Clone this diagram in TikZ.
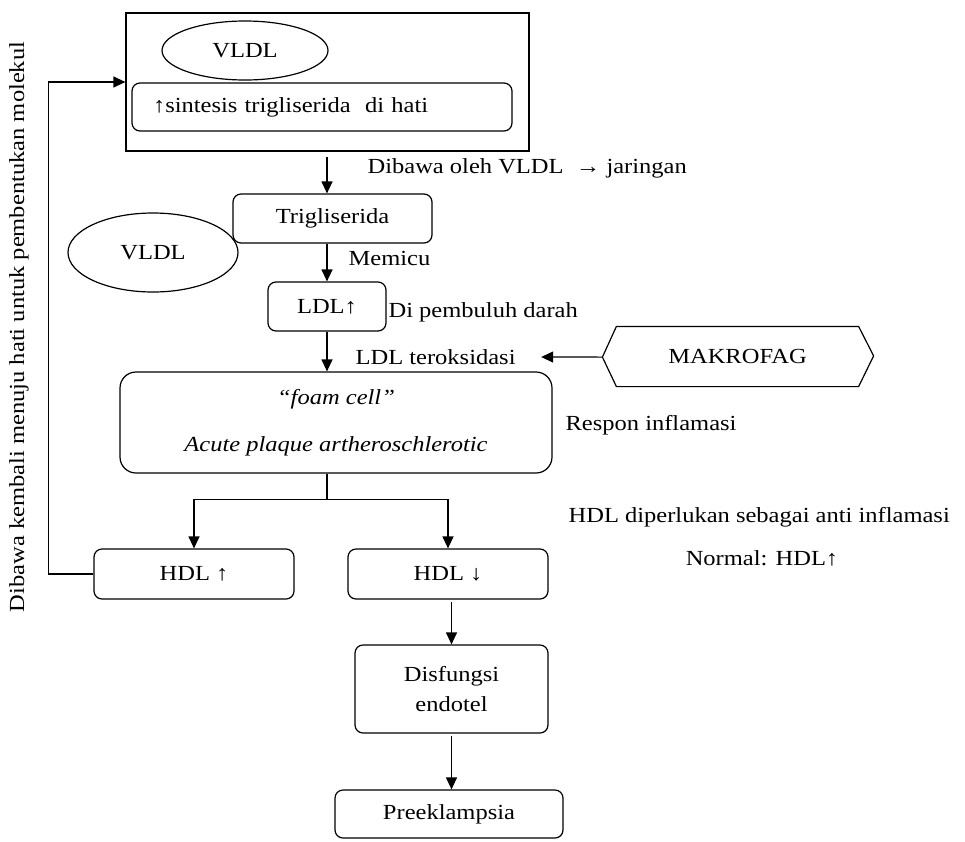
\documentclass[tikz,border=0pt]{standalone}
\usepackage{fontspec}
\setmainfont{Liberation Serif}[FakeStretch=1.14]
\usetikzlibrary{shapes.geometric,arrows.meta}

\newcommand{\sz}{\fontsize{21.5}{25.8}\selectfont}

\begin{document}
\begin{tikzpicture}[
        x = 1pt, y = -1pt,
        > = {Triangle[length=12pt,width=11pt]},
        line width = 1.2pt,
        font = \sz,
        every node/.style = {inner sep=0pt},
        box/.style = {draw, rounded corners=8pt, align=center},
        oval/.style = {draw, ellipse},
        note/.style = {anchor=west}
    ]
    \useasboundingbox (0,0) rectangle (965,841);

    % hati
    \node[draw, minimum width=403pt, minimum height=138pt] (liver) at (327.5,82) {};
    \node[oval, minimum width=166pt, minimum height=59pt] (vldlTop) at (245,50.5) {VLDL};
    \node[box, minimum width=380pt, minimum height=48pt, text width=338pt, align=left] (sintesis) at (322,107) {↑sintesis trigliserida\ \ di hati};

    % jalur utama
    \node[box, minimum width=199pt, minimum height=49pt] (trig) at (332.5,218.5) {Trigliserida};
    \node[oval, minimum width=170pt, minimum height=79pt] (vldlMid) at (153,252.5) {VLDL};
    \node[box, minimum width=118pt, minimum height=49pt] (ldl) at (327,306.5) {LDL↑};
    \node[box, rounded corners=16pt, minimum width=432pt, minimum height=101pt, font=\sz\itshape] (foam) at (336,422.5) {“foam cell”\\[21pt]Acute plaque artheroschlerotic};
    \node[box, minimum width=200pt, minimum height=50pt] (hdlUp) at (194,574) {HDL ↑};
    \node[box, minimum width=200pt, minimum height=50pt] (hdlDown) at (448,574) {HDL ↓};
    \node[box, minimum width=193pt, minimum height=88pt] (disfungsi) at (451.5,689) {Disfungsi\\[4pt]endotel};
    \node[box, minimum width=228pt, minimum height=48pt] (preek) at (449,814) {Preeklampsia};

    % makrofag
    \node[minimum width=241pt, minimum height=59pt] (makrofag) at (737.5,356.5) {MAKROFAG};
    \draw (makrofag.north west) -- (makrofag.north east) -- ++(15,29.5) -- (makrofag.south east)
        -- (makrofag.south west) -- ++(-14,-29.5) coordinate (mtip) -- cycle;

    % keterangan
    \node[note] (dibawa) at (367,168) {Dibawa oleh VLDL\ \ → jaringan};
    \node[note] (memicu) at (348,258) {Memicu};
    \node[note] (darah) at (388,312) {Di pembuluh darah};
    \node[note] (teroks) at (355,357) {LDL teroksidasi};
    \node[note] (respon) at (565,425) {Respon inflamasi};
    \node[note] (antiinf) at (568,517) {HDL diperlukan sebagai anti inflamasi};
    \node (normal) at (762,558) {Normal: HDL↑};
    \node[rotate=90] (kembali) at (19,327) {Dibawa kembali menuju hati untuk pembentukan molekul};

    % panah
    \draw[->, shorten <=5pt] (liver.south -| ldl) -- (trig.north -| ldl);
    \draw[->] (trig.south -| ldl) -- (ldl.north);
    \draw[->] (ldl.south) -- (foam.north -| ldl);
    \draw[->] (mtip) -- ([xshift=25pt]teroks.east);
    \draw (foam.south -| ldl) -- ++(0,26) coordinate (split);
    \draw[->] (split) -| (hdlUp);
    \draw[->] (split) -| (hdlDown);
    \draw[->, shorten <=2pt] (hdlDown.south -| disfungsi) -- (disfungsi.north);
    \draw[->, shorten <=2pt] (disfungsi.south) -- (preek.north -| disfungsi);
    \draw[->] (hdlUp.west) -- ++(-45,0) |- (liver.west);
\end{tikzpicture}
\end{document}
